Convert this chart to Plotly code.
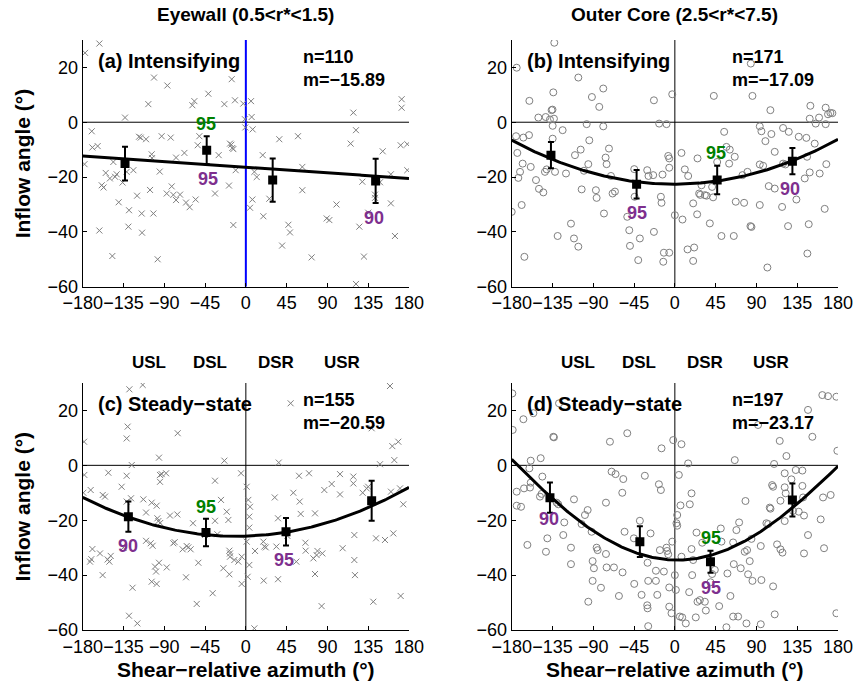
import numpy as np
import plotly.graph_objects as go

# ---------------- data ----------------
# Panel (a) Eyewall, Intensifying (x markers)
a_x = [-177.4,-161.6,-170,-178,-169.3,-163.5,-154.6,-159,-157,-161.6,-147.3,-146.2,-142.5,-144.3,-140.3,-133.3,-131.5,-128.9,-129.6,-124.1,
       -117.9,-116,-110.1,-114.9,-114.5,-107.6,-105.7,-103.9,-103.5,-102,-101.3,-97.3,-92.9,-87.3,-86.6,-82.9,-81.8,-80,-77,-77,
       -72.6,-67.8,-66,-59,-56.8,-55.4,-53.1,-51.3,-41.4,-34,-23.7,-18.6,-15.6,-17.5,-16,-15,-13.8,-13.8,-12,-11.2,
       -2.8,-1,-0.6,4.6,5.7,6.4,7.5,7.2,9.4,18.6,19.3,25.9,36.9,46.9,48.7,57.5,62.3,62.3,72.6,89.2,
       92.1,115.6,118.6,121.5,121.5,125.2,128.5,130.3,142.5,142.5,148,151,160,160,164.5,170.8,171.9,171.9,178.1,178.1,
       -150,-136,-120,-95,-62,-30,12,40,100,135]
a_y = [25.3,28.7,-3.3,-15.3,-9.2,-8.7,-18.5,-23,-23.8,-39.5,-48.8,-14.5,-19,-19.9,-29.2,1.7,-18.1,-32.1,-38.1,-17.5,
       -5.3,-5.6,-6.2,-33.3,-40.3,6.6,-24.7,-11.7,-13.1,-33.3,16.3,-50,-5.1,-26,13.4,-5.6,-23.4,-26.5,-28.4,-12.9,
       -26.4,-11.2,-29.3,6.2,7.7,-28.2,-8.4,-5.1,10.4,-26,6.6,-23.1,15.7,-7.8,-8.2,-9.4,-37.5,-9.8,8,-17.5,
       6.8,1.1,-1.9,-31.2,7.7,1.9,-2.6,-28.2,-18.1,-12,-34.3,-27.9,-6.2,-37.4,-40.2,-5.1,-16.3,-24.8,-49.3,-35.1,
       -35.7,-7.8,3.5,-2.9,-59,-38.1,-21.7,-49,-26.4,-27.6,-21.9,-10.6,-19,-29.6,-41.5,-8.4,8.4,5.3,-8,-17.5,
       -20.5,-22,-26.8,-18,-31,-12,-20,-45,-30,-33]
a_mx = [-133.3,-43.2,29.6,143.2]
a_my = [-15.1,-10.2,-21.1,-21.4]
a_err = [6.2,5.1,7.9,8.1]

# Panel (b) Outer core, Intensifying (open circles)
b_x = [-174.5,-133,-180,-175.2,-173.8,-172.7,-170.8,-167.9,-167.1,-169,-166,-160.9,-160.5,-159,-153.2,-150.6,-149.9,-145.1,-142.5,-143.3,
       -141.4,-137.8,-136,-135,-134.8,-134.8,-134.1,-133.4,-132.2,-129.3,-123.8,-120.1,-114.6,-111.3,-110.2,-106.5,-106.5,-103.9,-102.8,-100.3,
       -95.5,-97.3,-94.4,-91.5,-87.1,-86.3,-83.4,-79,-79,-78.2,-76.4,-75.3,-72.7,-70.5,-68.7,-66.1,-52.5,-44.8,-44.4,-50.3,
       -49.5,-40.4,-38.6,-30.5,-29.1,-23.9,-23.1,-23.1,-17.3,-15.4,-14.7,-13.6,-12.8,-12.1,-9.2,-7.3,-6.2,-6.2,-6.2,-2.9,
       0,8.4,7.3,11,14.7,14,20.2,21.3,25,24.6,26.8,28,29.4,33.1,35,20.2,38.6,41.1,42.2,43,
       46.7,51.4,54.4,56.9,59.9,60.6,65,66.1,67.2,74.6,76.4,80.1,83.4,84.5,85.6,83.8,93.7,95.5,93.7,93.7,
       97.4,99.9,102.1,103.6,105.4,106.5,110.2,110.2,119.4,118.3,119.4,122,124.9,125.7,134.1,136.7,145.1,143.3,145.9,147.7,
       146.2,148.8,149.5,148.8,154.3,155.4,159.1,159.8,165.3,166.4,167.1,166.4,169,171.6,173.8]
b_y = [19.9,29,-32.7,-5.1,-11.2,-20.3,-18.1,-15.1,-5.6,-30.2,-49.1,-4.7,7.8,-16.3,-21.1,1.7,-24.3,-25.6,1.9,-18.1,
       -17.2,1,4.4,4.6,-1.3,-6,10.9,1.3,-18.1,-41.5,-2.9,-18.7,-37,-42.4,-12,-45.4,16.3,-10,-24.5,-17.7,
       -15.3,-0.7,-6.6,9.2,-24.8,-27.6,5.6,-1.5,12.3,-33.3,-12.9,-15.3,-9.6,-19.6,-26,-25.3,-34.5,-17.1,-27.2,-39.4,
       -45.1,-50.3,-42.4,-17.5,-19.6,-19.3,-40,8,-0.5,-27.2,-29.4,-19.1,-50.9,-47.6,-0.7,-12.3,-13.2,-16.6,-47.6,10.2,
       -33.9,-35.5,-11.2,-17.2,-19.6,-46.4,-29.6,-45.7,-13.2,-33.6,-26,-26.5,-23,-26.6,-26.8,-50.6,-36.9,-23.6,-27.4,9.6,
       -14.5,-41.5,-3.5,-9,-15.1,-10,-41.5,-12.6,-29,-19.3,-29.4,-18.1,-37.9,-38.2,9.6,21.4,-1.5,-3.3,-30.2,-15.4,
       -15.9,-6.9,-53,-23.3,4.4,-4.3,-10.8,-24.2,-2.1,-30.9,-15.1,-15.4,-37.9,-3.5,-28.2,-5.3,-5.7,-20.5,-12.6,-37.2,
       -47.9,-18.3,6,1.3,-7.8,-0.5,1.7,-18.7,-31.6,5.3,-15.3,-0.7,2.9,3.4,3.3]
b_mx = [-136.7,-42.2,46.7,129.7]
b_my = [-12.0,-22.6,-21.1,-14.2]
b_err = [4.8,5.2,5.2,4.8]

# Panel (c) Eyewall, Steady-state (x markers)
c_x = [-178.5,-178.2,-179.3,-171.2,-169.3,-171.9,-170.5,-160.9,-158,-157.9,-155.4,-151.7,-150.6,-149.1,-152.5,-137,-135.1,-131.5,-130.4,-131.5,
       -131.5,-128.5,-128.9,-126.7,-125.9,-125,-119.7,-113.8,-113.1,-110.1,-110.1,-105,-102.8,-103.9,-103.9,-100.2,-98.4,-99.1,-98.4,-97.6,
       -96.5,-95.8,-95.8,-94.7,-94.7,-94.5,-92.9,-88,-87.3,-83.7,-80,-78.5,-75.2,-75.6,-69.7,-66,-65.3,-63.5,-60.9,-58.3,
       -54.2,-52.4,-45,-36.6,-34,-34,-31.5,-27.4,-23.7,-24.8,-21.1,-19.3,-18.2,-17.5,-17.5,-18.2,-12.7,-8.3,-5.3,-4.6,
       -4.6,0.9,0.9,2,2.7,3.8,4.6,3.8,3.8,9.4,10.1,19.3,20.4,22,19.7,31.9,33.7,35.5,36.3,35.5,
       45.8,52.4,55.7,58.7,59.4,60.5,65.7,66,69.7,74.5,76.3,76.3,78.1,79,83.6,84.4,86.6,94.7,103.9,103.9,
       106.8,118.6,118.6,119.7,119.7,120.4,128.9,133.3,135,138.8,140.6,143.6,148,153.5,159,160.1,161.6,162.7,163.8,168.2,
       170.8,173.7,170.1,49.4]
c_y = [8.6,-3.5,-10,-9,-30.5,-35.1,-34.2,-32.1,-40,-10.8,-11.4,-2.7,-35.1,-33,-34.3,-7.8,-30,9.8,14.1,-3.8,
       -13.2,27.7,-54.8,-12,0.1,-44.6,-57.6,29.3,-12.4,-17.2,-27.5,-28.4,-29.3,-13.6,-42.4,-36.9,-43.2,-38.7,-14.7,-19.3,
       -20.3,2.8,-35.5,-3.5,-6,-21,-3.2,-2.9,-37.2,-18.3,-28.4,-28,11.7,-17.9,-30.6,-40.8,-29.4,-29.9,-30.6,-21.1,
       -50.5,-35.5,-25.4,-46.6,-5.6,-20.2,-25.1,-12.6,1.7,-37.5,-16.9,-19.9,-31.1,-32.1,-33.3,-39.7,-34.5,-35.1,-2.9,-33.3,
       -43.2,-7.8,-27.8,-40.6,-12.6,-18.7,-15.1,-22.7,-36.3,-59.4,-31.2,-27.8,-29.6,-29.9,-42,-11.7,-29.6,-41.5,1,-19.3,
       -25.7,-10,-35.1,-3.8,-13.2,-17.7,-28.2,-31.1,-2.9,-33.9,-17.5,-39.6,-32.7,-31.2,-51.3,-32.1,-9,-6.8,-10.6,-3.2,
       -30.2,-6.6,-4.1,-25.4,-34.5,-40,-10,-8.4,-7.8,13.5,-49.7,-26.6,0.4,-27.2,28.9,-9.6,7,-24.8,1.9,8.6,
       -47.6,-14.2,-8.4,22.6]
c_mx = [-129.6,-44.0,44.3,138.8]
c_my = [-18.7,-24.5,-24.2,-12.9]
c_err = [5.5,5.0,5.0,7.3]

# Panel (d) Outer core, Steady-state (open circles)
d_x = [-179.3,-178.9,-174.5,-174.5,-169.7,-167.1,-166.4,-162.7,-159.8,-159,-159,-160.5,-156.1,-148,-148.8,-147,-146.2,-142.2,-140.7,-134.1,
       -133.4,-130.4,-128.6,-127.8,-123.1,-122,-114.6,-114.6,-111.3,-102.9,-99.2,-96.2,-95.5,-91.8,-90.7,-90.7,-89.3,-86.3,-85.2,-81.5,
       -76,-76,-75.3,-71.6,-69.8,-67.2,-65.4,-61.7,-57.7,-56.9,-58,-55.5,-52.5,-44.8,-45.2,-38.6,-36.7,-33.1,-30.5,-30.1,
       -29.4,-30.1,-26.8,-29.4,-20.9,-20.9,-19.4,-17.6,-15.4,-16.5,-14.7,-12.1,-9.2,-8.5,-7.3,-6.2,-6.2,-2.9,-3.7,-1.8,
       0,1.1,1.8,2.6,2.6,4.4,5.5,7.3,6.2,7.3,8.1,12.1,14.7,15.8,16.5,18.4,18.4,19.1,20.2,23.1,
       23.9,25,27.6,30.2,33.1,34.2,39.3,41.1,44.1,48.9,50.7,51.4,56.9,58,61.3,64.3,64.3,65,66.1,67.9,
       69.8,70.9,72.7,77.1,77.9,79,79.7,80.8,82.6,84.5,85.6,94.8,95.5,94.8,101,103,104.7,105.5,107.3,108.4,
       108.4,109.5,110.2,112.8,115.7,116.5,116.5,118.7,121.2,121.2,122.3,121.2,123.1,128.6,133.4,136.7,140.7,140.7,141.5,142.5,
       142.5,146.9,146.9,151.7,160.9,163.5,164.6,162.7,169,171.9,178.2,179.3,178.2,91.8,130.4]
d_y = [26.2,12.9,-9.6,-14.7,-15.1,16.8,-8.4,-29,-8.1,-6.3,1.7,-1.1,19,2.6,-11.4,-10.4,-4.1,-31.5,-26.6,10.4,
       10.2,-13.6,-14.2,22.6,-25.4,-20.8,-30,-36,-12.4,-21.4,-18.1,-16.3,-49.7,-24.2,-34.9,-42.1,-37.5,-30,-30.9,-44.6,
       -32.3,-13.6,-37.2,8.6,-2.3,-37.2,-3.2,-47.6,-39,-5,-10,-24.2,11.7,-43.2,-26.6,-20.2,-47.2,-3.8,-51,-52.1,
       -42.1,-35.5,-24.8,-58.6,-42.1,-38.4,-47.2,-6.9,-9,-30.9,6.2,-38.7,-30,-31.2,-32.4,-44.5,-51.5,-27.8,-53.9,9.2,
       -40,-45.4,-21.1,-22,-18.1,-3.5,-55.1,7.7,-14.6,-33.3,-55.4,-57.6,0.7,-46.2,-14.2,-10.2,-30.5,-40,-34.5,-55.4,
       -24.5,-49.7,-49.1,-28.2,-49.7,-52.9,-42.6,-39.6,-38.1,-51.3,-23,-27.8,-59,-39.4,-47.6,-55.1,-28.1,-36,1.9,-23.6,
       -55.1,-20.8,-37.5,-31.5,-13,-57.6,-30.9,-39.7,-34.9,-26.8,-42.1,-57.9,-41.8,-29.4,-21.1,-21.4,-15.4,-15.8,-7.2,-7.8,
       -44.1,0.5,-54.3,-28.8,8.9,-12.9,-30.6,-31.8,-8,-2.9,-10.2,-20.3,3.4,-5.1,-1.7,-16.9,-1.9,-7.5,-11.7,-18.3,
       -32.1,-25.4,20.2,10.4,-19.7,-11.7,-30.2,25.6,25.2,-10.8,25,5.3,-53.9,14.7,-16.6]
d_mx = [-137.8,-38.6,39.3,129.7]
d_my = [-11.8,-27.8,-35.1,-12.6]
d_err = [5.5,5.6,4.0,6.0]

# fitted curves: y = c0 + c1*u + c2*u^2 + c4*u^4, u = azimuth/180
fit_a = [-16.4, -4.1, 0.0, 0.0]
fit_b = [-22.6, 0.15, 16.2, 0.0]
fit_c = [-25.8, 1.85, 15.95, 0.0]
fit_d = [-34.5, -1.25, 41.5, -6.07]

labels = ["(a) Intensifying", "(b) Intensifying", "(c) Steady\u2212state", "(d) Steady\u2212state"]
n_text = ["n=110", "n=171", "n=155", "n=197"]
m_text = ["m=\u221215.89", "m=\u221217.09", "m=\u221220.59", "m=\u221223.17"]
# significance labels: (x, y, text, colour key)
sig_a = [(-43.7, -0.7, "95", "g"), (-42.0, -20.8, "95", "p"), (141.7, -35.1, "90", "p")]
sig_b = [(45.9, -11.4, "95", "g"), (-42.2, -33.0, "95", "p"), (126.7, -24.5, "90", "p")]
sig_c = [(-44.3, -15.1, "95", "g"), (-130.4, -29.4, "90", "p"), (42.5, -34.5, "95", "p")]
sig_d = [(39.5, -26.4, "95", "g"), (-138.5, -19.7, "90", "p"), (39.5, -44.6, "95", "p")]
quadrants = ["USL", "DSL", "DSR", "USR"]
quad_x = [-107, -40, 33, 106]
col_titles = ["Eyewall (0.5<r*<1.5)", "Outer Core (2.5<r*<7.5)"]
xticks = [-180, -135, -90, -45, 0, 45, 90, 135, 180]
yticks = [-60, -40, -20, 0, 20]

# ---------------- figure ----------------
W, H = 862, 684
FONT = "Liberation Sans, Arial, sans-serif"
GREEN = "#008000"
PURPLE = "#7e2f8e"
GRAY = "#7f7f7f"

def px(v):
    return v / W

def py(v):
    return 1 - v / H

xdom = [[px(82.7), px(409.0)], [px(511.7), px(838.0)]]
ydom = [[py(286.7), py(40.0)], [py(630.0), py(383.0)]]

panels = [
    (a_x, a_y, a_mx, a_my, a_err, fit_a, sig_a, "x-thin-open", 6),
    (b_x, b_y, b_mx, b_my, b_err, fit_b, sig_b, "circle-open", 7),
    (c_x, c_y, c_mx, c_my, c_err, fit_c, sig_c, "x-thin-open", 6),
    (d_x, d_y, d_mx, d_my, d_err, fit_d, sig_d, "circle-open", 7),
]

fig = go.Figure()
annotations = []
shapes = []
layout_axes = {}

for i, (sx, sy, mx, my, me, fit, sig, sym, msz) in enumerate(panels):
    k = "" if i == 0 else str(i + 1)
    xa, ya = "x" + k, "y" + k
    col, row = i % 2, i // 2
    layout_axes["xaxis" + k] = dict(
        domain=xdom[col], range=[-180, 180], anchor=ya, tickvals=xticks, tickangle=0,
        automargin=False,
        showline=True, linecolor="black", linewidth=1, mirror=False,
        ticks="inside", ticklen=4, tickcolor="black", showgrid=False, zeroline=False,
        tickfont=dict(family=FONT, size=18, color="black"),
    )
    layout_axes["yaxis" + k] = dict(
        domain=ydom[row], range=[-60, 30], anchor=xa, tickvals=yticks,
        automargin=False,
        showline=True, linecolor="black", linewidth=1, mirror=False,
        ticks="inside", ticklen=4, tickcolor="black", showgrid=False, zeroline=False,
        tickfont=dict(family=FONT, size=18, color="black"),
    )
    # zero lines
    shapes.append(dict(type="line", xref=xa, yref=ya, x0=-180, x1=180, y0=0, y1=0,
                       line=dict(color="black", width=1), layer="below"))
    shapes.append(dict(type="line", xref=xa, yref=ya, x0=0, x1=0, y0=-60, y1=30,
                       line=dict(color="#0000ff" if i == 0 else "black", width=2 if i == 0 else 1),
                       layer="below"))
    fig.add_trace(go.Scatter(x=sx, y=sy, mode="markers", xaxis=xa, yaxis=ya,
                             marker=dict(symbol=sym, size=msz, color=GRAY, line=dict(color=GRAY, width=1)),
                             showlegend=False, hoverinfo="skip"))
    xf = np.linspace(-180, 180, 241)
    u = xf / 180.0
    yf = fit[0] + fit[1] * u + fit[2] * u ** 2 + fit[3] * u ** 4
    fig.add_trace(go.Scatter(x=xf, y=yf, mode="lines", xaxis=xa, yaxis=ya,
                             line=dict(color="black", width=3), showlegend=False, hoverinfo="skip"))
    fig.add_trace(go.Scatter(x=mx, y=my, mode="markers", xaxis=xa, yaxis=ya,
                             marker=dict(symbol="square", size=9, color="black"),
                             error_y=dict(type="data", array=me, color="black", thickness=2, width=3),
                             showlegend=False, hoverinfo="skip"))
    # texts
    annotations.append(dict(x=-165.3, y=22.2, xref=xa, yref=ya, text="<b>" + labels[i] + "</b>",
                            showarrow=False, xanchor="left", yanchor="middle",
                            font=dict(family=FONT, size=20, color="black")))
    annotations.append(dict(x=60.3, y=23.8, xref=xa, yref=ya, text="<b>" + n_text[i] + "</b>",
                            showarrow=False, xanchor="left", yanchor="middle",
                            font=dict(family=FONT, size=18, color="black")))
    annotations.append(dict(x=60.3, y=15.5, xref=xa, yref=ya, text="<b>" + m_text[i] + "</b>",
                            showarrow=False, xanchor="left", yanchor="middle",
                            font=dict(family=FONT, size=18, color="black")))
    for (tx, ty, tt, cc) in sig:
        annotations.append(dict(x=tx, y=ty, xref=xa, yref=ya, text="<b>" + tt + "</b>",
                                showarrow=False, xanchor="center", yanchor="middle",
                                font=dict(family=FONT, size=18, color=GREEN if cc == "g" else PURPLE)))
    if row == 1:
        for qx, qt in zip(quad_x, quadrants):
            annotations.append(dict(x=qx, y=py(362), xref=xa, yref="paper", text="<b>" + qt + "</b>",
                                    showarrow=False, xanchor="center", yanchor="middle",
                                    font=dict(family=FONT, size=17, color="black")))
        annotations.append(dict(x=sum(xdom[col]) / 2, y=py(669), xref="paper", yref="paper",
                                text="<b>Shear\u2212relative azimuth (\u00b0)</b>", showarrow=False,
                                xanchor="center", yanchor="middle",
                                font=dict(family=FONT, size=21, color="black")))
    if col == 0:
        annotations.append(dict(x=px(22), y=sum(ydom[row]) / 2, xref="paper", yref="paper",
                                text="<b>Inflow angle (\u00b0)</b>", showarrow=False, textangle=-90,
                                xanchor="center", yanchor="middle",
                                font=dict(family=FONT, size=21, color="black")))

for col in range(2):
    annotations.append(dict(x=sum(xdom[col]) / 2, y=py(15), xref="paper", yref="paper",
                            text="<b>" + col_titles[col] + "</b>", showarrow=False,
                            xanchor="center", yanchor="middle",
                            font=dict(family=FONT, size=19, color="black")))

fig.update_layout(
    width=W, height=H, margin=dict(l=0, r=0, t=0, b=0, pad=0, autoexpand=False),
    paper_bgcolor="white", plot_bgcolor="white",
    annotations=annotations, shapes=shapes, showlegend=False,
    **layout_axes,
)

fig.write_html("out.html")
